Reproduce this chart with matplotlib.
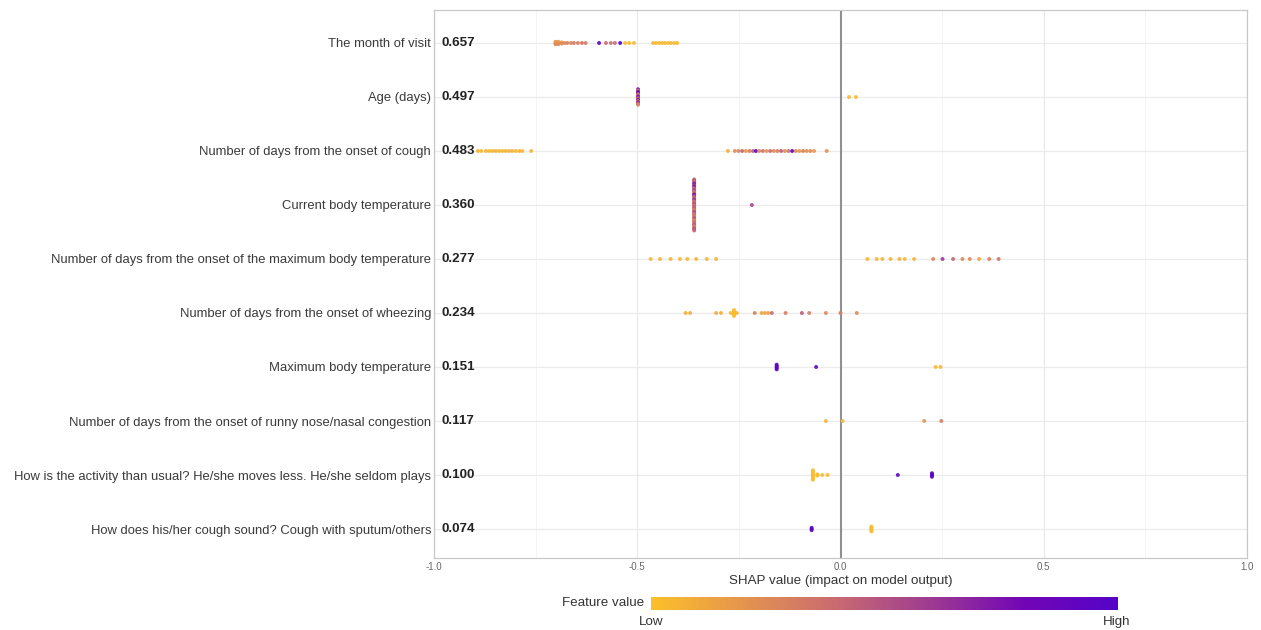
import matplotlib
matplotlib.use("Agg")
import matplotlib.pyplot as plt
import numpy as np
from matplotlib.colors import LinearSegmentedColormap
from matplotlib.transforms import blended_transform_factory

plt.rcParams["font.family"] = ["Liberation Sans", "DejaVu Sans"]

features = [
    "The month of visit",
    "Age (days)",
    "Number of days from the onset of cough",
    "Current body temperature",
    "Number of days from the onset of the maximum body temperature",
    "Number of days from the onset of wheezing",
    "Maximum body temperature",
    "Number of days from the onset of runny nose/nasal congestion",
    "How is the activity than usual? He/she moves less. He/she seldom plays",
    "How does his/her cough sound? Cough with sputum/others",
]
mean_abs = ["0.657", "0.497", "0.483", "0.360", "0.277", "0.234", "0.151", "0.117", "0.100", "0.074"]

# SHAP values per feature (repeated values are stacked points)
shap_month = [-0.701, -0.701, -0.701, -0.694, -0.694, -0.694, -0.686, -0.686,
              -0.679, -0.672, -0.663, -0.656, -0.646, -0.636, -0.627, -0.594, -0.577, -0.565, -0.555,
              -0.542, -0.530, -0.520, -0.508, -0.461, -0.454, -0.446, -0.439, -0.432, -0.424, -0.417,
              -0.409, -0.402]
fv_month = [0.22, 0.18, 0.25, 0.20, 0.16, 0.25, 0.18, 0.24,
            0.25, 0.30, 0.26, 0.32, 0.30, 0.35, 0.33, 0.95, 0.40, 0.36, 0.40,
            0.98, 0.03, 0.03, 0.03, 0.04, 0.03, 0.05, 0.03, 0.04, 0.03, 0.05,
            0.03, 0.04]

shap_age = [-0.498] * 14 + [0.021, 0.038]
fv_age = [0.90, 0.30, 0.70, 0.95, 0.50, 0.20, 0.85, 0.60, 0.35, 0.90, 0.25, 0.75, 0.40, 0.30, 0.03, 0.03]

shap_cough = [-0.892, -0.884, -0.872, -0.864, -0.856, -0.848, -0.840, -0.832, -0.824,
              -0.816, -0.808, -0.799, -0.790, -0.783, -0.761,
              -0.277, -0.260, -0.251, -0.242, -0.233, -0.224, -0.215, -0.208, -0.200, -0.191,
              -0.182, -0.173, -0.164, -0.155, -0.146, -0.137, -0.128, -0.119,
              -0.110, -0.101, -0.092, -0.083, -0.074, -0.065, -0.034]
fv_cough = [0.04, 0.05, 0.06, 0.04, 0.05, 0.07, 0.05, 0.04, 0.06,
            0.05, 0.08, 0.05, 0.06, 0.04, 0.06,
            0.08, 0.22, 0.28, 0.42, 0.18, 0.30, 0.45, 0.95, 0.26, 0.36,
            0.20, 0.40, 0.25, 0.30, 0.45, 0.22, 0.36, 0.97,
            0.26, 0.20, 0.30, 0.22, 0.26, 0.18, 0.20]

shap_temp = [-0.360] * 44 + [-0.218]
fv_temp = [0.45, 0.50, 0.40, 0.55, 0.85, 0.45, 0.95, 0.50, 0.40, 0.60, 0.45, 0.35,
           0.50, 0.90, 0.55, 0.45, 0.40, 0.65, 0.50, 0.30, 0.45, 0.55, 0.25, 0.50,
           0.40, 0.45, 0.20, 0.50, 0.55, 0.30, 0.45, 0.25, 0.40, 0.50, 0.35, 0.20,
           0.45, 0.30, 0.50, 0.40, 0.25, 0.45, 0.50, 0.40, 0.55]

shap_maxonset = [-0.467, -0.444, -0.418, -0.395, -0.377, -0.355, -0.329, -0.306,
                 0.066, 0.089, 0.103, 0.123, 0.145, 0.158, 0.181,
                 0.228, 0.251, 0.277, 0.300, 0.318, 0.341, 0.366, 0.389]
fv_maxonset = [0.05, 0.05, 0.06, 0.05, 0.05, 0.06, 0.05, 0.05,
               0.05, 0.05, 0.06, 0.05, 0.07, 0.05, 0.06,
               0.28, 0.62, 0.42, 0.25, 0.25, 0.12, 0.30, 0.35]

shap_wheeze = [-0.381, -0.370, -0.306, -0.294, -0.270, -0.262, -0.262, -0.262, -0.262, -0.262,
               -0.262, -0.255, -0.211, -0.194, -0.186, -0.178, -0.169, -0.135, -0.095, -0.077,
               -0.036, 0.000, 0.040]
fv_wheeze = [0.08, 0.08, 0.08, 0.08, 0.03, 0.02, 0.02, 0.02, 0.02, 0.02,
             0.02, 0.03, 0.30, 0.12, 0.12, 0.12, 0.40, 0.30, 0.45, 0.30,
             0.25, 0.30, 0.25]

shap_maxtemp = [-0.157] * 5 + [-0.060, 0.234, 0.246]
fv_maxtemp = [0.90, 0.90, 0.92, 0.90, 0.90, 0.92, 0.04, 0.04]

shap_runny = [-0.036, 0.005, 0.206, 0.248]
fv_runny = [0.05, 0.05, 0.20, 0.30]

shap_activity = [-0.068] * 9 + [-0.057, -0.057, -0.045, -0.032, 0.141] + [0.225] * 4
fv_activity = [0.02] * 9 + [0.03, 0.03, 0.03, 0.03, 0.95] + [0.95] * 4

shap_sound = [-0.071] * 3 + [0.076] * 5
fv_sound = [0.95] * 3 + [0.03] * 5

shap_all = [shap_month, shap_age, shap_cough, shap_temp, shap_maxonset,
            shap_wheeze, shap_maxtemp, shap_runny, shap_activity, shap_sound]
fv_all = [fv_month, fv_age, fv_cough, fv_temp, fv_maxonset,
          fv_wheeze, fv_maxtemp, fv_runny, fv_activity, fv_sound]

cmap = LinearSegmentedColormap.from_list(
    "shap", ["#FDC02A", "#E5944F", "#C96A72", "#9E3B92", "#7206B6", "#5504C8"])

fig = plt.figure(figsize=(12.61, 6.30), dpi=100)
ax = fig.add_axes([434 / 1261, 1 - 558 / 630, 813 / 1261, 548 / 630])

# grid
for v in [-0.75, -0.25, 0.25, 0.75]:
    ax.axvline(v, color="#F2F2F2", lw=0.6, zorder=0)
for v in [-1.0, -0.5, 0.5, 1.0]:
    ax.axvline(v, color="#E8E8E8", lw=0.9, zorder=0)
for i in range(len(features)):
    ax.axhline(i + 1, color="#EBEBEB", lw=0.9, zorder=0)
ax.axvline(0, color="#909090", lw=1.5, zorder=1)

step = 0.022
for i, (sv, fv) in enumerate(zip(shap_all, fv_all)):
    sv = np.array(sv)
    fv = np.array(fv)
    y = np.full(len(sv), i + 1.0)
    for u in np.unique(sv):
        idx = np.where(sv == u)[0]
        n = len(idx)
        y[idx] += (np.arange(n) - (n - 1) / 2) * step
    ax.scatter(sv, y, c=fv, cmap=cmap, vmin=0, vmax=1, s=8, linewidths=0, alpha=0.9, zorder=3)

ax.set_xlim(-1, 1)
ax.set_ylim(10.537, 0.389)
ax.set_yticks(range(1, len(features) + 1))
ax.set_yticklabels(features, fontsize=9.4, color="#3A3A3A")
ax.tick_params(axis="y", length=0, pad=2)
ax.set_xticks([-1, -0.5, 0, 0.5, 1])
ax.set_xticklabels(["-1.0", "-0.5", "0.0", "0.5", "1.0"], fontsize=7, color="#666666")
ax.tick_params(axis="x", length=0, pad=3)
ax.set_xlabel("SHAP value (impact on model output)", fontsize=9.6, color="#333333", labelpad=2)
for s in ax.spines.values():
    s.set_color("#C8C8C8")
    s.set_linewidth(0.9)

tr = blended_transform_factory(ax.transAxes, ax.transData)
for i, m in enumerate(mean_abs):
    ax.text(7 / 813, i + 1, m, transform=tr, ha="left", va="center",
            fontsize=9.6, fontweight="bold", color="#222222")

# colour legend
cax = fig.add_axes([651 / 1261, 1 - 610 / 630, 467 / 1261, 13 / 630])
cax.imshow(np.linspace(0, 1, 256)[None, :], aspect="auto", cmap=cmap, extent=[0, 1, 0, 1])
cax.set_axis_off()
fig.text(644 / 1261, 1 - 603 / 630, "Feature value", ha="right", va="center", fontsize=9.6, color="#333333")
fig.text(651 / 1261, 1 - 622 / 630, "Low", ha="center", va="center", fontsize=9.6, color="#333333")
fig.text(1117 / 1261, 1 - 622 / 630, "High", ha="center", va="center", fontsize=9.6, color="#333333")

fig.savefig("out.png", dpi=100, facecolor="white")
